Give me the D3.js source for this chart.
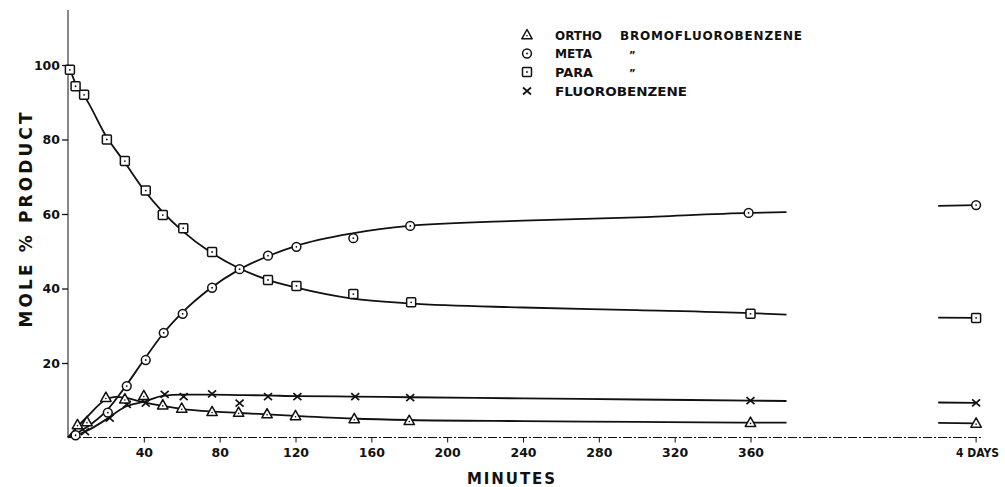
<!DOCTYPE html>
<html>
<head>
<meta charset="utf-8">
<script src="https://cdn.jsdelivr.net/npm/d3@7"></script>
<style>
  html, body { margin: 0; padding: 0; background: #fff; }
  svg { display: block; }
  text { font-family: "DejaVu Sans", "Liberation Sans", sans-serif; font-weight: bold; fill: #111; }
</style>
</head>
<body>
<script>
// ---------------- DATA ----------------
// measured points (minutes, mole % product)
const orthoTimes  = [5, 10, 20, 30, 40, 50, 60, 76, 90, 105, 120, 151, 180, 360];
const orthoValues = [3.4, 4.2, 10.7, 10.3, 11.2, 8.7, 7.8, 6.9, 6.7, 6.3, 5.8, 5.0, 4.5, 4.0];

const metaTimes   = [4, 21, 31, 41, 50.5, 60.5, 76, 90.5, 105.5, 120.5, 150.5, 180.5, 359];
const metaValues  = [0.6, 6.7, 13.8, 20.8, 28.1, 33.2, 40.2, 45.2, 48.8, 51.2, 53.5, 56.8, 60.3];

const paraTimes   = [1, 4, 8.5, 20.5, 30, 41, 50, 60.8, 76, 105.5, 120.5, 150.5, 181, 360];
const paraValues  = [98.7, 94.3, 92.0, 80.0, 74.2, 66.3, 59.7, 56.2, 49.8, 42.3, 40.7, 38.5, 36.3, 33.2];

const fluoroTimes  = [9, 22, 31, 41, 51, 61, 76, 90.5, 105.5, 121, 151.5, 180.5, 360];
const fluoroValues = [1.6, 5.2, 8.9, 9.2, 11.6, 11.0, 11.7, 9.2, 11.0, 11.0, 11.0, 10.7, 9.9];

// values at 4 days
const fourDayValues = { ortho: 3.8, meta: 62.4, para: 32.1, fluoro: 9.3 };
// start of the short line drawn before the 4-day point
const fourDayLineStart = { ortho: 3.9, meta: 62.2, para: 32.2, fluoro: 9.4 };

// fitted curves
const orthoFitTimes  = [0, 5, 10, 20, 25, 30, 40, 50, 60, 75, 90, 105, 120, 150, 180, 240, 300, 360, 379];
const orthoFitValues = [0, 2.9, 5.5, 10.2, 10.9, 10.7, 9.4, 8.5, 7.7, 7.0, 6.6, 6.2, 5.8, 5.1, 4.7, 4.4, 4.2, 4.0, 4.0];

const metaFitTimes   = [0, 10, 20, 30, 40, 50, 60, 75, 90, 105, 120, 150, 180, 240, 300, 360, 379];
const metaFitValues  = [0, 2.8, 7.0, 13.5, 20.8, 27.8, 33.4, 40.0, 45.0, 48.6, 51.4, 54.8, 56.8, 58.2, 59.1, 60.3, 60.5];

const paraFitTimes   = [0, 1, 4, 10, 20, 30, 40, 50, 60, 75, 90, 105, 120, 150, 180, 240, 300, 360, 379];
const paraFitValues  = [99.6, 98.7, 95.0, 90.5, 81.0, 73.8, 66.5, 60.5, 55.6, 49.8, 45.5, 42.4, 40.3, 37.3, 36.0, 34.9, 34.2, 33.4, 33.0];

const fluoroFitTimes  = [0, 10, 20, 30, 40, 50, 60, 75, 90, 105, 120, 150, 180, 240, 300, 360, 379];
const fluoroFitValues = [0, 1.8, 4.8, 8.2, 9.6, 11.2, 11.5, 11.5, 11.4, 11.3, 11.1, 11.0, 10.8, 10.5, 10.2, 9.9, 9.8];

// axis ticks
const xTickValues = [40, 80, 120, 160, 200, 240, 280, 320, 360];
const yTickValues = [20, 40, 60, 80, 100];
const daysTickLabel = "4 DAYS";

// legend
const legendLabels = ["ORTHO", "META", "PARA", "FLUOROBENZENE"];

// ---------------- LAYOUT ----------------
const W = 1005, H = 487;
const DAYS_SLOT = 479;        // axis position used for the "4 DAYS" break
const DAYS_LINE_SLOT = 459;   // where the short 4-day line starts

const svg = d3.select("body").append("svg").attr("width", W).attr("height", H);

const x = d3.scaleLinear().domain([0, 360]).range([68, 750.5]);
const y = d3.scaleLinear().domain([0, 100]).range([437.5, 65]);

const ink = "#111";

// axes lines
svg.append("line").attr("x1", x(0)).attr("x2", x(0)).attr("y1", 10).attr("y2", y(0))
  .attr("stroke", ink).attr("stroke-width", 1);
svg.append("line").attr("x1", x(0)).attr("x2", x(DAYS_SLOT) + 6).attr("y1", y(0)).attr("y2", y(0))
  .attr("stroke", ink).attr("stroke-width", 1).attr("stroke-dasharray", "9 2 2 2");

// y axis ticks
const yAxis = d3.axisLeft(y).tickValues(yTickValues).tickSize(6).tickPadding(2).tickFormat(d3.format("d"));
const gy = svg.append("g").attr("transform", `translate(${x(0)},0)`).call(yAxis);
gy.select(".domain").remove();
gy.selectAll(".tick line").attr("stroke", ink).attr("stroke-width", 1.3);
gy.selectAll(".tick text").attr("font-size", 12.5).attr("fill", ink)
  .style("font-family", "DejaVu Sans").style("font-weight", "bold");

// x axis ticks
const xAxis = d3.axisBottom(x).tickValues(xTickValues).tickSize(5).tickPadding(6).tickFormat(d3.format("d"));
const gx = svg.append("g").attr("transform", `translate(0,${y(0)})`).call(xAxis);
gx.select(".domain").remove();
gx.selectAll(".tick line").attr("stroke", ink).attr("stroke-width", 1);
gx.selectAll(".tick text").attr("font-size", 12.5).attr("fill", ink)
  .style("font-family", "DejaVu Sans").style("font-weight", "bold");

// 4 DAYS tick
svg.append("line").attr("x1", x(DAYS_SLOT)).attr("x2", x(DAYS_SLOT))
  .attr("y1", y(0)).attr("y2", y(0) + 5).attr("stroke", ink);
svg.append("text").attr("x", x(DAYS_SLOT) - 20).attr("y", y(0) + 19.5)
  .attr("font-size", 12).attr("textLength", 43).attr("lengthAdjust", "spacingAndGlyphs")
  .text(daysTickLabel);

// axis titles
svg.append("text").attr("transform", "translate(32,220) rotate(-90)")
  .attr("text-anchor", "middle").attr("font-size", 17)
  .attr("textLength", 215).attr("lengthAdjust", "spacing")
  .text("MOLE % PRODUCT");
svg.append("text").attr("x", 511).attr("y", 484)
  .attr("text-anchor", "middle").attr("font-size", 15)
  .attr("textLength", 88).attr("lengthAdjust", "spacing")
  .text("MINUTES");

// ---------------- CURVES ----------------
const line = d3.line().x(d => x(d[0])).y(d => y(d[1])).curve(d3.curveMonotoneX);
function drawFit(times, values) {
  svg.append("path").datum(d3.zip(times, values)).attr("d", line)
    .attr("fill", "none").attr("stroke", ink).attr("stroke-width", 1.8);
}
drawFit(orthoFitTimes, orthoFitValues);
drawFit(metaFitTimes, metaFitValues);
drawFit(paraFitTimes, paraFitValues);
drawFit(fluoroFitTimes, fluoroFitValues);

// short 4-day lines
["ortho", "meta", "para", "fluoro"].forEach(k => {
  svg.append("path").datum([[DAYS_LINE_SLOT, fourDayLineStart[k]], [DAYS_SLOT, fourDayValues[k]]])
    .attr("d", d3.line().x(d => x(d[0])).y(d => y(d[1])))
    .attr("fill", "none").attr("stroke", ink).attr("stroke-width", 1.8);
});

// ---------------- MARKERS ----------------
function marker(g, type, cx, cy) {
  const sw = 1.5;
  if (type === "tri") {
    g.append("path")
      .attr("d", `M${cx},${cy - 5.5} L${cx + 5.2},${cy + 3.8} L${cx - 5.2},${cy + 3.8} Z`)
      .attr("fill", "#fff").attr("stroke", ink).attr("stroke-width", sw).attr("stroke-linejoin", "round");
    g.append("circle").attr("cx", cx).attr("cy", cy + 0.8).attr("r", 0.8).attr("fill", ink);
  } else if (type === "circ") {
    g.append("circle").attr("cx", cx).attr("cy", cy).attr("r", 4.4)
      .attr("fill", "#fff").attr("stroke", ink).attr("stroke-width", sw);
    g.append("circle").attr("cx", cx).attr("cy", cy).attr("r", 0.9).attr("fill", ink);
  } else if (type === "sq") {
    g.append("rect").attr("x", cx - 4.5).attr("y", cy - 4.5).attr("width", 9).attr("height", 9)
      .attr("rx", 1).attr("fill", "#fff").attr("stroke", ink).attr("stroke-width", sw);
    g.append("circle").attr("cx", cx).attr("cy", cy).attr("r", 0.9).attr("fill", ink);
  } else if (type === "x") {
    g.append("path")
      .attr("d", `M${cx - 4},${cy - 3.5} L${cx + 4},${cy + 3.5} M${cx - 4},${cy + 3.5} L${cx + 4},${cy - 3.5}`)
      .attr("stroke", ink).attr("stroke-width", 1.7).attr("fill", "none");
  }
}
const gm = svg.append("g");
function drawPoints(times, values, type, key) {
  d3.zip(times, values).forEach(d => marker(gm, type, x(d[0]), y(d[1])));
  marker(gm, type, x(DAYS_SLOT), y(fourDayValues[key]));
}
drawPoints(fluoroTimes, fluoroValues, "x", "fluoro");
drawPoints(metaTimes, metaValues, "circ", "meta");
drawPoints(paraTimes, paraValues, "sq", "para");
drawPoints(orthoTimes, orthoValues, "tri", "ortho");

// ---------------- LEGEND ----------------
const legendRowsY = [35, 53.5, 72, 91];
const legendTypes = ["tri", "circ", "sq", "x"];
const gl = svg.append("g");
legendTypes.forEach((t, i) => marker(gl, t, 527, legendRowsY[i]));
const legendWidths = [47, 37, 38, 132];
legendLabels.forEach((lab, i) => {
  gl.append("text").attr("x", 555).attr("y", legendRowsY[i] + 4.5)
    .attr("font-size", 12).attr("textLength", legendWidths[i]).attr("lengthAdjust", "spacingAndGlyphs")
    .text(lab);
});
gl.append("text").attr("x", 620).attr("y", legendRowsY[0] + 4.5)
  .attr("font-size", 12).attr("textLength", 182).attr("lengthAdjust", "spacing")
  .text("BROMOFLUOROBENZENE");
[1, 2].forEach(i => {
  gl.append("text").attr("x", 629).attr("y", legendRowsY[i] + 5).attr("font-size", 10).text("\u201D");
});
</script>
</body>
</html>
